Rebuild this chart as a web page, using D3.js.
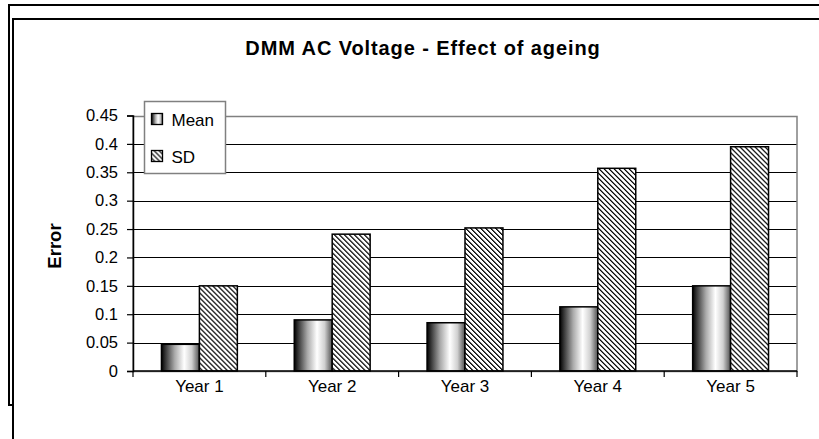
<!DOCTYPE html>
<html>
<head>
<meta charset="utf-8">
<script src="https://cdn.jsdelivr.net/npm/d3@7"></script>
<style>
  html, body { margin: 0; padding: 0; background: #fff; }
  svg { display: block; }
  text { font-family: "Liberation Sans", Arial, sans-serif; fill: #000; }
</style>
</head>
<body>
<svg id="chart" width="819" height="439"></svg>
<script>
// Chart data
const categories = ["Year 1", "Year 2", "Year 3", "Year 4", "Year 5"];
const seriesNames = ["Mean", "SD"];
const meanValues = [0.047, 0.090, 0.085, 0.113, 0.150];
const sdValues = [0.150, 0.241, 0.252, 0.357, 0.395];
const yTickValues = [0, 0.05, 0.1, 0.15, 0.2, 0.25, 0.3, 0.35, 0.4, 0.45];
const yTickLabels = ["0", "0.05", "0.1", "0.15", "0.2", "0.25", "0.3", "0.35", "0.4", "0.45"];
const titleText = "DMM AC Voltage - Effect of ageing";
const yAxisTitle = "Error";

const rows = categories.map((c, i) => ({ category: c, values: [
  { series: "Mean", value: meanValues[i] },
  { series: "SD", value: sdValues[i] }
]}));

const svg = d3.select("#chart");

// Gradient and hatch fills
const defs = svg.append("defs");
const grad = defs.append("linearGradient").attr("id", "meanFill")
  .attr("x1", "0%").attr("x2", "100%").attr("y1", "0%").attr("y2", "0%");
[[0, "#000"], [0.1, "#333"], [0.35, "#aaa"], [0.6, "#fff"], [0.8, "#d0d0d0"], [1, "#505050"]]
  .forEach(([o, c]) => grad.append("stop").attr("offset", o).attr("stop-color", c));

// Downward-diagonal hatch drawn pixel by pixel on a 5x5 tile
const hatchSize = 5;
const hatch = defs.append("pattern").attr("id", "sdFill")
  .attr("patternUnits", "userSpaceOnUse").attr("width", hatchSize).attr("height", hatchSize);
hatch.append("rect").attr("width", hatchSize).attr("height", hatchSize).attr("fill", "#fff");
d3.range(hatchSize).forEach(r => {
  hatch.append("rect").attr("x", r).attr("y", r).attr("width", 1).attr("height", 1)
    .attr("fill", "#000").attr("shape-rendering", "crispEdges");
  hatch.append("rect").attr("x", (r + 1) % hatchSize).attr("y", r).attr("width", 1).attr("height", 1)
    .attr("fill", "#555").attr("shape-rendering", "crispEdges");
});

const fills = { Mean: "url(#meanFill)", SD: "url(#sdFill)" };

// Outer and inner frames
svg.append("rect").attr("x", 9).attr("y", 5).attr("width", 840).attr("height", 400)
  .attr("fill", "#fff").attr("stroke", "#000").attr("stroke-width", 2);
svg.append("rect").attr("x", 13).attr("y", 19).attr("width", 840).attr("height", 460)
  .attr("fill", "#fff").attr("stroke", "#000").attr("stroke-width", 2);

// Plot area
const plot = { left: 133, right: 797, top: 115.5, bottom: 371 };

const x = d3.scaleBand().domain(categories).range([plot.left, plot.right])
  .paddingInner(1.5 / 3.5).paddingOuter(0.75 / 3.5);
const xSub = d3.scaleBand().domain(seriesNames).range([0, x.bandwidth()]);
const y = d3.scaleLinear().domain([0, 0.45]).range([plot.bottom, plot.top]);

// Gridlines
svg.append("g").selectAll("line")
  .data(yTickValues.filter(v => v > 0))
  .join("line")
  .attr("x1", plot.left).attr("x2", plot.right)
  .attr("y1", d => Math.round(y(d)) + 0.5).attr("y2", d => Math.round(y(d)) + 0.5)
  .attr("stroke", "#000").attr("stroke-width", 1);

// Plot border
svg.append("rect")
  .attr("x", plot.left).attr("y", Math.round(plot.top) + 0.5)
  .attr("width", plot.right - plot.left).attr("height", plot.bottom - Math.round(plot.top))
  .attr("fill", "none").attr("stroke", "#808080").attr("stroke-width", 1.5);

// Bars
const groups = svg.append("g").selectAll("g")
  .data(rows).join("g")
  .attr("transform", d => `translate(${x(d.category)},0)`);
groups.selectAll("rect")
  .data(d => d.values).join("rect")
  .attr("x", d => xSub(d.series))
  .attr("y", d => y(d.value))
  .attr("width", xSub.bandwidth())
  .attr("height", d => y(0) - y(d.value))
  .attr("fill", d => fills[d.series])
  .attr("stroke", "#000").attr("stroke-width", 1.5);

// Y axis
const yAxis = d3.axisLeft(y).tickValues(yTickValues)
  .tickFormat((d, i) => yTickLabels[i]).tickSizeOuter(0).tickSize(6).tickPadding(9);
const yg = svg.append("g").attr("transform", `translate(${plot.left},0)`).call(yAxis);
yg.select(".domain").attr("stroke", "#000").attr("stroke-width", 1.5);
yg.selectAll(".tick line").attr("stroke", "#000").attr("stroke-width", 1.2);
yg.selectAll(".tick text").attr("font-size", 16.5).attr("font-family", "Liberation Sans, Arial, sans-serif");

// X axis: ticks sit on category boundaries
const xAxisG = svg.append("g").attr("transform", `translate(0,${plot.bottom})`);
xAxisG.append("line").attr("x1", plot.left).attr("x2", plot.right)
  .attr("y1", 0).attr("y2", 0).attr("stroke", "#000").attr("stroke-width", 1.5);
const boundaries = categories.map(c => x(c) - x.step() * x.paddingOuter())
  .concat([plot.right]);
xAxisG.selectAll("line.tk").data(boundaries).join("line").attr("class", "tk")
  .attr("x1", d => d).attr("x2", d => d).attr("y1", 0).attr("y2", 6)
  .attr("stroke", "#000").attr("stroke-width", 1.2);
xAxisG.selectAll("text").data(categories).join("text")
  .attr("x", d => x(d) + x.bandwidth() / 2).attr("y", 21)
  .attr("text-anchor", "middle").attr("font-size", 17)
  .text(d => d);

// Titles
svg.append("text").attr("x", 423).attr("y", 55)
  .attr("text-anchor", "middle").attr("font-size", 20).attr("font-weight", "bold")
  .attr("letter-spacing", 0.9)
  .text(titleText);
svg.append("text")
  .attr("transform", `translate(61,246) rotate(-90)`)
  .attr("text-anchor", "middle").attr("font-size", 18.5).attr("font-weight", "bold")
  .text(yAxisTitle);

// Legend
const legend = svg.append("g").attr("transform", "translate(144.5,101.5)");
legend.append("rect").attr("width", 81).attr("height", 72)
  .attr("fill", "#fff").attr("stroke", "#808080").attr("stroke-width", 1.5);
const items = legend.selectAll("g").data(seriesNames).join("g")
  .attr("transform", (d, i) => `translate(0,${18 + i * 37})`);
items.append("rect").attr("x", 7).attr("y", -6).attr("width", 11).attr("height", 11)
  .attr("fill", d => fills[d]).attr("stroke", "#000").attr("stroke-width", 1.3);
items.append("text").attr("x", 27).attr("y", 6).attr("font-size", 17).text(d => d);
</script>
</body>
</html>
